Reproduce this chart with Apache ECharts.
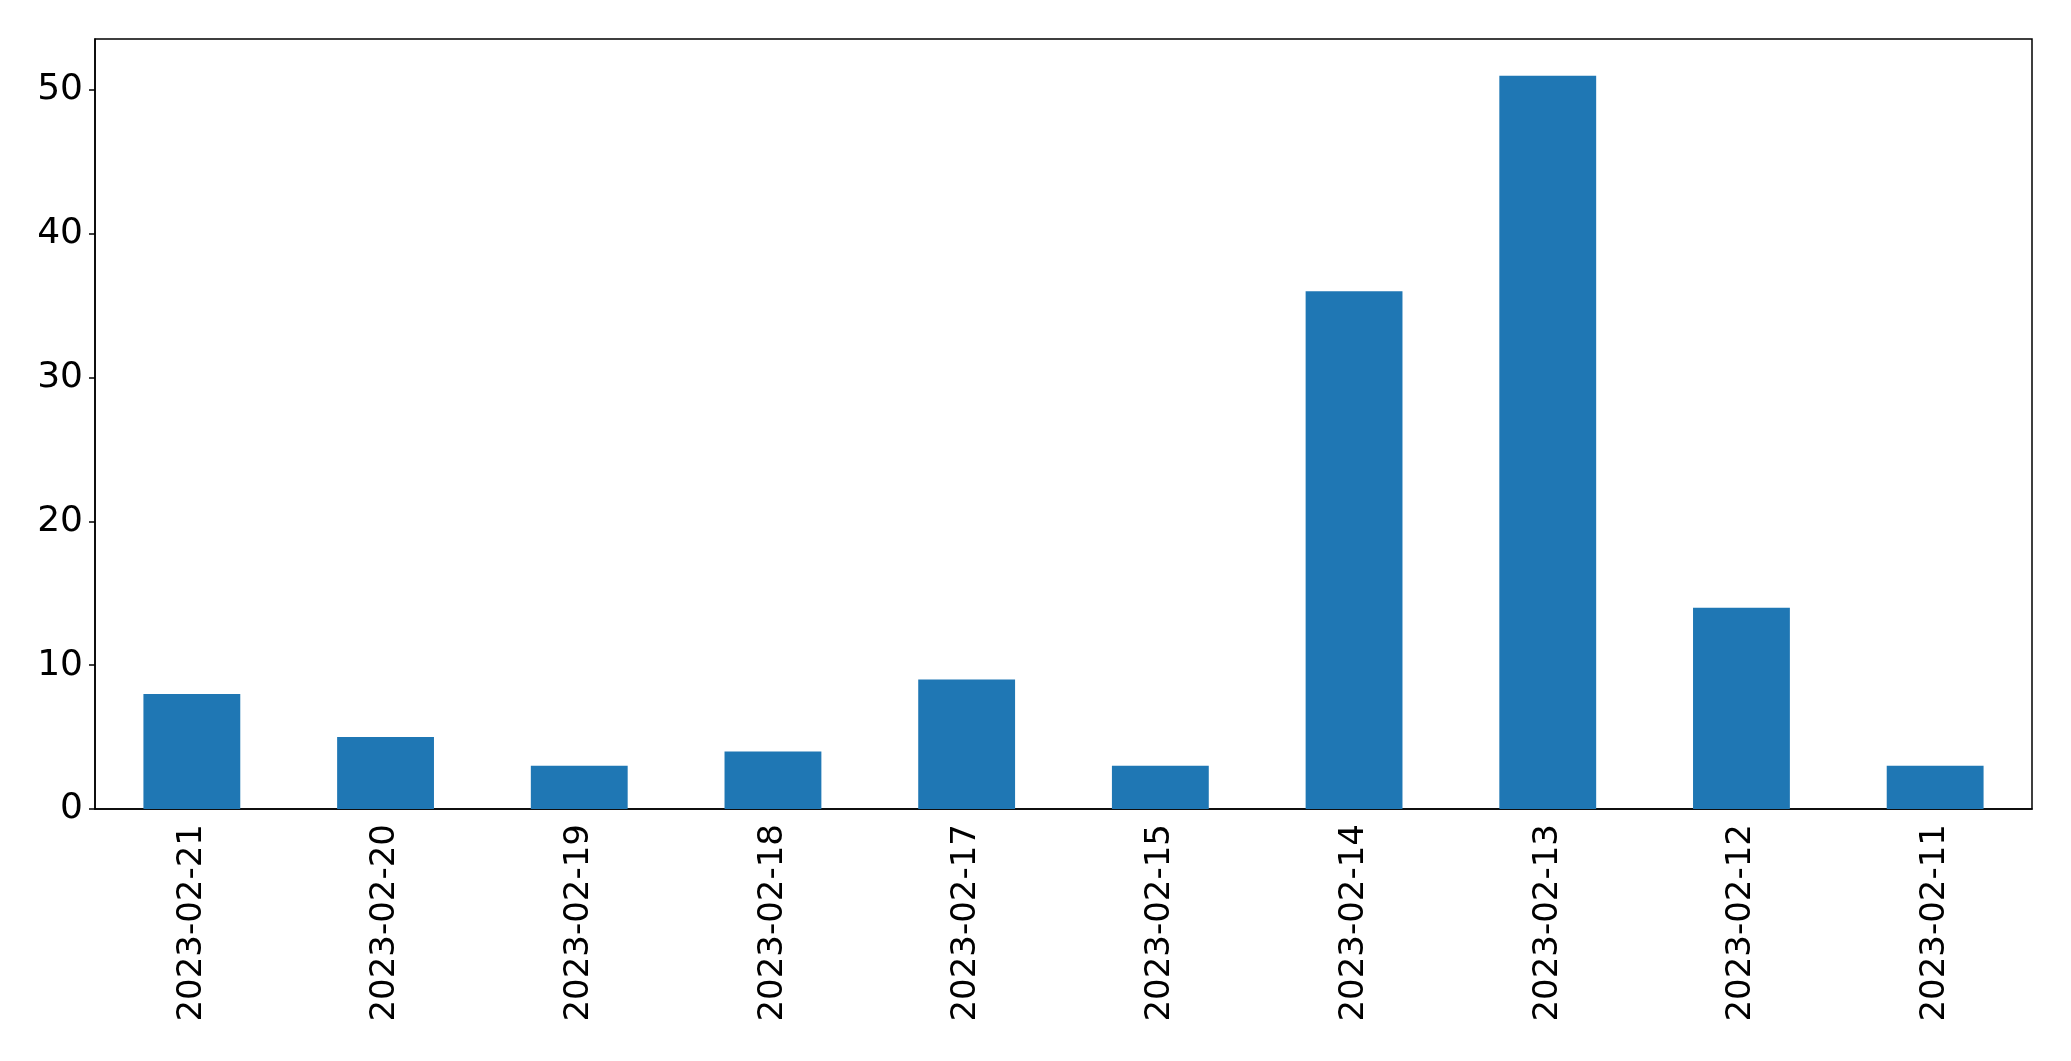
<!DOCTYPE html>
<html><head><meta charset="utf-8">
<script src="https://cdn.jsdelivr.net/npm/echarts@6/dist/echarts.min.js"></script>
<style>html,body{margin:0;padding:0;background:#fff}#c{width:2071px;height:1061px}</style>
</head><body><div id="c"></div>
<script>
const categories = ['2023-02-21','2023-02-20','2023-02-19','2023-02-18','2023-02-17','2023-02-15','2023-02-14','2023-02-13','2023-02-12','2023-02-11'];
const values = [8, 5, 3, 4, 9, 3, 36, 51, 14, 3];
const yTicks = [0, 10, 20, 30, 40, 50];

const chart = echarts.init(document.getElementById('c'), null, {renderer: 'canvas'});
const font = 'DejaVu Sans';
chart.setOption({
  animation: false,
  backgroundColor: '#fff',
  grid: {left: 95, right: 39, top: 39, bottom: 252, show: true, borderColor: '#000', borderWidth: 1.5, backgroundColor: 'transparent'},
  xAxis: {
    type: 'category', data: categories, boundaryGap: true,
    axisLine: {lineStyle: {color: '#000', width: 1.5}},
    axisTick: {alignWithLabel: true, length: 6, lineStyle: {color: '#000', width: 1.5}},
    axisLabel: {rotate: 90, margin: 15, color: '#000', fontSize: 34, fontFamily: font, interval: 0}
  },
  yAxis: {
    type: 'value', min: 0, max: 53.55, interval: 10,
    splitLine: {show: false},
    axisLine: {show: true, lineStyle: {color: '#000', width: 1.5}},
    axisTick: {show: true, length: 6, customValues: yTicks, lineStyle: {color: '#000', width: 1.5}},
    axisLabel: {margin: 12, color: '#000', fontSize: 36, fontFamily: font, customValues: yTicks, padding: [7, 0, 0, 0]}
  },
  series: [{type: 'bar', data: values, barWidth: '50%', itemStyle: {color: '#1f77b4'}}]
});
</script></body></html>
